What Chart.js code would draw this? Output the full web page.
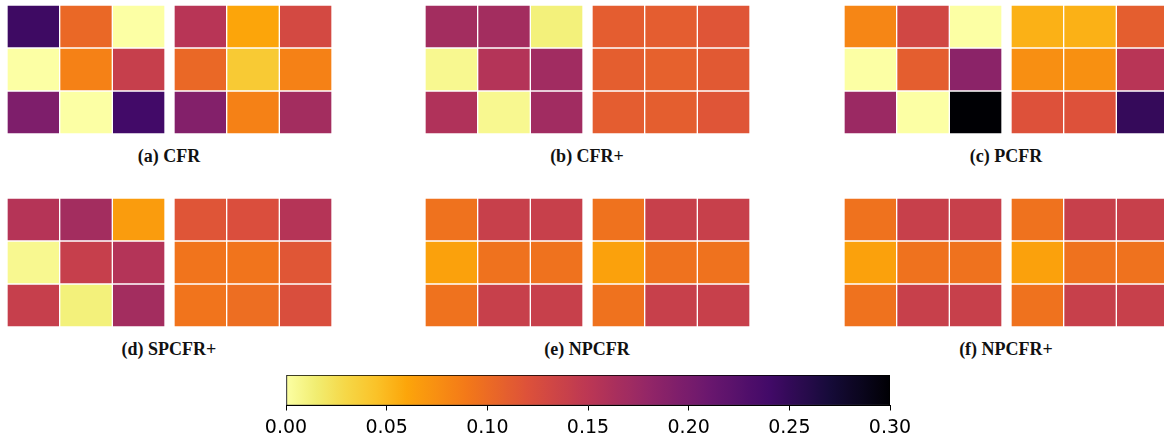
<!DOCTYPE html>
<html>
<head>
<meta charset="utf-8">
<script src="https://cdn.jsdelivr.net/npm/chart.js@4.4.0/dist/chart.umd.min.js"></script>
<style>
  html, body { margin: 0; padding: 0; background: #fff; overflow: hidden; }
  #wrap { position: relative; width: 1164px; height: 436px; overflow: hidden; }
  #wrap canvas { position: absolute; }
  .cap { position: absolute; width: 340px; height: 20px; line-height: 20px; text-align: center;
         font: bold 18px "Liberation Serif", serif; color: #111; }
</style>
</head>
<body>
<div id="wrap"></div>
<script>
// valeurs (3x3 par carte, deux cartes par algorithme)
const colLabels = ['0', '1', '2'];

const cfrLeft  = [[0.243, 0.102, 0.000], [0.000, 0.084, 0.141], [0.195, 0.000, 0.240]];
const cfrRight = [[0.153, 0.060, 0.129], [0.102, 0.039, 0.084], [0.192, 0.084, 0.168]];

const cfrPlusLeft  = [[0.168, 0.168, 0.012], [0.006, 0.156, 0.170], [0.159, 0.006, 0.170]];
const cfrPlusRight = [[0.111, 0.111, 0.117], [0.110, 0.108, 0.114], [0.111, 0.110, 0.117]];

const pcfrLeft  = [[0.081, 0.132, 0.000], [0.000, 0.110, 0.186], [0.174, 0.000, 0.300]];
const pcfrRight = [[0.054, 0.054, 0.110], [0.075, 0.074, 0.153], [0.120, 0.120, 0.249]];

const spcfrLeft  = [[0.155, 0.168, 0.066], [0.006, 0.141, 0.156], [0.141, 0.012, 0.168]];
const spcfrRight = [[0.117, 0.123, 0.155], [0.093, 0.093, 0.116], [0.093, 0.098, 0.124]];

const npcfrLeft  = [[0.095, 0.140, 0.140], [0.063, 0.095, 0.095], [0.095, 0.140, 0.140]];
const npcfrRight = [[0.095, 0.140, 0.140], [0.063, 0.095, 0.095], [0.095, 0.140, 0.140]];

const npcfrPlusLeft  = [[0.095, 0.140, 0.140], [0.063, 0.095, 0.095], [0.095, 0.140, 0.140]];
const npcfrPlusRight = [[0.095, 0.140, 0.140], [0.063, 0.095, 0.095], [0.095, 0.140, 0.140]];

const captions = ['(a) CFR', '(b) CFR+', '(c) PCFR', '(d) SPCFR+', '(e) NPCFR', '(f) NPCFR+'];
const cbTicks = [0.00, 0.05, 0.10, 0.15, 0.20, 0.25, 0.30];
const vMax = 0.30;

// inferno inversé (points de contrôle)
const infernoStops = [
  [0.00, '#000004'], [0.10, '#160b39'], [0.20, '#420a68'], [0.30, '#6a176e'],
  [0.40, '#932667'], [0.50, '#bc3754'], [0.60, '#dd513a'], [0.70, '#f37819'],
  [0.80, '#fca50a'], [0.85, '#fac228'], [0.90, '#f6d746'], [0.95, '#f1ed71'], [1.00, '#fcffa4']
];

function hexRgb(h) {
  return [parseInt(h.slice(1, 3), 16), parseInt(h.slice(3, 5), 16), parseInt(h.slice(5, 7), 16)];
}

function heatColor(v) {
  const t = 1 - Math.min(Math.max(v / vMax, 0), 1);
  let i = 0;
  while (i < infernoStops.length - 2 && t > infernoStops[i + 1][0]) i++;
  const [t0, h0] = infernoStops[i];
  const [t1, h1] = infernoStops[i + 1];
  const f = (t - t0) / (t1 - t0);
  const a = hexRgb(h0), b = hexRgb(h1);
  const c = a.map((x, k) => Math.round(x + (b[k] - x) * f));
  return `rgb(${c[0]}, ${c[1]}, ${c[2]})`;
}

const wrap = document.getElementById('wrap');

function addCanvas(left, top, w, h) {
  const cv = document.createElement('canvas');
  cv.width = w; cv.height = h;
  cv.style.left = left + 'px';
  cv.style.top = top + 'px';
  wrap.appendChild(cv);
  return cv;
}

function drawGrid(values, left, top) {
  const cv = addCanvas(left, top, 158, 129);
  new Chart(cv.getContext('2d'), {
    type: 'bar',
    data: {
      labels: colLabels,
      datasets: values.map((row, r) => ({
        stack: 'g',
        data: row.map(() => [r, r + 1]),
        backgroundColor: row.map(heatColor),
        borderColor: '#ffffff',
        borderWidth: 1,
        borderSkipped: false,
        barPercentage: 1,
        categoryPercentage: 1
      }))
    },
    options: {
      responsive: false,
      animation: false,
      layout: { padding: 0 },
      plugins: { legend: { display: false }, tooltip: { enabled: false } },
      scales: {
        x: { display: false, stacked: true },
        y: { display: false, stacked: false, min: 0, max: 3, reverse: true }
      }
    }
  });
}

function addCaption(text, centerX, centerY) {
  const d = document.createElement('div');
  d.className = 'cap';
  d.textContent = text;
  d.style.left = (centerX - 170) + 'px';
  d.style.top = (centerY - 10) + 'px';
  wrap.appendChild(d);
}

// panneaux
const panels = [
  [cfrLeft, cfrRight], [cfrPlusLeft, cfrPlusRight], [pcfrLeft, pcfrRight],
  [spcfrLeft, spcfrRight], [npcfrLeft, npcfrRight], [npcfrPlusLeft, npcfrPlusRight]
];
const panelX = [7, 425, 844];
const panelY = [5, 198];

panels.forEach((p, i) => {
  const x = panelX[i % 3];
  const y = panelY[Math.floor(i / 3)];
  drawGrid(p[0], x, y);
  drawGrid(p[1], x + 167, y);
  addCaption(captions[i], x + 162, y + 151);
});

// barre de couleur
const cb = addCanvas(236, 370, 704, 66);
new Chart(cb.getContext('2d'), {
  type: 'bar',
  data: {
    labels: [''],
    datasets: [{
      data: [[cbTicks[0], cbTicks[cbTicks.length - 1]]],
      backgroundColor: function(ctx) {
        const area = ctx.chart.chartArea;
        if (!area) return '#fff';
        const g = ctx.chart.ctx.createLinearGradient(area.left, 0, area.right, 0);
        for (let k = 0; k <= 60; k++) g.addColorStop(k / 60, heatColor(k / 60 * vMax));
        return g;
      },
      borderColor: '#000',
      borderWidth: 1,
      borderSkipped: false,
      barPercentage: 1,
      categoryPercentage: 1
    }]
  },
  options: {
    indexAxis: 'y',
    responsive: false,
    animation: false,
    layout: { padding: { left: 50, right: 50, top: 5, bottom: 0 } },
    plugins: { legend: { display: false }, tooltip: { enabled: false } },
    scales: {
      x: {
        type: 'linear', min: 0, max: vMax,
        afterBuildTicks: axis => { axis.ticks = cbTicks.map(v => ({ value: v })); },
        ticks: {
          autoSkip: false, maxRotation: 0, padding: 6, color: '#000',
          font: { family: 'DejaVu Sans', size: 19 },
          callback: v => Number(v).toFixed(2)
        },
        grid: { display: true, drawOnChartArea: false, drawTicks: true, tickLength: 5, color: '#000' },
        border: { display: true, color: '#000' }
      },
      y: { display: false }
    }
  }
});
</script>
</body>
</html>
